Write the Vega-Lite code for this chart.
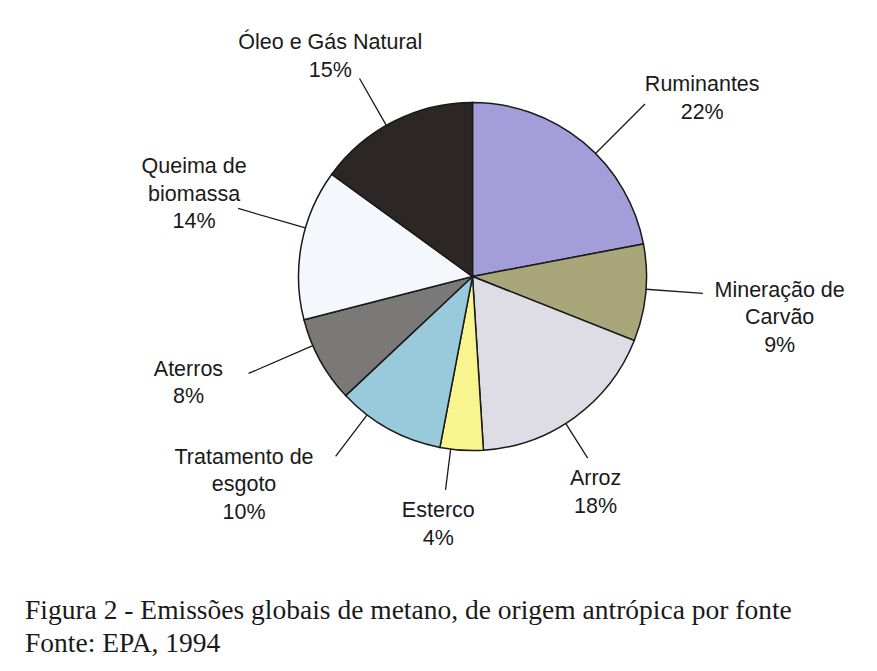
{
  "$schema": "https://vega.github.io/schema/vega-lite/v6.json",
  "width": 805,
  "height": 553,
  "autosize": {"type": "none"},
  "padding": {"left": 70, "top": 0, "right": 1, "bottom": 118},
  "background": "#ffffff",
  "config": {"view": {"stroke": null}},
  "title": {
    "text": "Figura 2 - Emissões globais de metano, de origem antrópica por fonte",
    "subtitle": "Fonte: EPA, 1994",
    "orient": "bottom",
    "anchor": "start",
    "frame": "group",
    "dx": -45,
    "offset": 43.5,
    "font": "Liberation Serif",
    "fontSize": 27.5,
    "fontWeight": "normal",
    "color": "#1a1a1a",
    "subtitleFont": "Liberation Serif",
    "subtitleFontSize": 27.5,
    "subtitleColor": "#1a1a1a",
    "subtitlePadding": 5.5
  },
  "data": {
    "values": [
      {"ordem": 1, "fonte": "Ruminantes", "valor": 22, "rotulo": "Ruminantes\n22%"},
      {"ordem": 2, "fonte": "Mineração de Carvão", "valor": 9, "rotulo": "Mineração de\nCarvão\n9%"},
      {"ordem": 3, "fonte": "Arroz", "valor": 18, "rotulo": "Arroz\n18%"},
      {"ordem": 4, "fonte": "Esterco", "valor": 4, "rotulo": "Esterco\n4%"},
      {"ordem": 5, "fonte": "Tratamento de esgoto", "valor": 10, "rotulo": "Tratamento de\nesgoto\n10%"},
      {"ordem": 6, "fonte": "Aterros", "valor": 8, "rotulo": "Aterros\n8%"},
      {"ordem": 7, "fonte": "Queima de biomassa", "valor": 14, "rotulo": "Queima de\nbiomassa\n14%"},
      {"ordem": 8, "fonte": "Óleo e Gás Natural", "valor": 15, "rotulo": "Óleo e Gás Natural\n15%"}
    ]
  },
  "transform": [
    {"stack": "valor", "groupby": [], "sort": [{"field": "ordem", "order": "ascending"}], "as": ["v0", "v1"]}
  ],
  "resolve": {"scale": {"theta": "independent"}},
  "layer": [
    {
      "mark": {"type": "arc", "outerRadius": 174, "stroke": "#1a1a1a", "strokeWidth": 1.5},
      "encoding": {
        "theta": {"field": "v0", "type": "quantitative", "scale": {"domain": [0, 100], "range": [0, 6.283185]}},
        "theta2": {"field": "v1"},
        "color": {
          "field": "fonte",
          "type": "nominal",
          "scale": {
            "domain": ["Ruminantes", "Mineração de Carvão", "Arroz", "Esterco", "Tratamento de esgoto", "Aterros", "Queima de biomassa", "Óleo e Gás Natural"],
            "range": ["#a39dd9", "#a9a67a", "#dedde6", "#f8f58e", "#99cadb", "#7b7977", "#f4f8fc", "#2c2725"]
          },
          "legend": null
        }
      }
    },
    {
      "transform": [
        {"fold": ["v0", "v1"], "as": ["limite", "posicao"]},
        {"aggregate": [{"op": "mean", "field": "posicao", "as": "meio"}], "groupby": ["fonte", "rotulo"]},
        {"filter": {"field": "fonte", "oneOf": ["Óleo e Gás Natural"]}}
      ],
      "resolve": {"scale": {"theta": "independent"}},
      "layer": [
        {
          "mark": {"type": "arc", "filled": false, "innerRadius": 174, "outerRadius": 228, "stroke": "#1a1a1a", "strokeWidth": 1.3},
          "encoding": {
            "theta": {"field": "meio", "type": "quantitative", "scale": {"domain": [0, 100], "range": [-0.0471, 6.236085]}},
            "theta2": {"field": "meio"}
          }
        },
        {
          "mark": {"type": "text", "radius": 273, "font": "Liberation Sans", "fontSize": 21.5, "lineHeight": 27.5, "lineBreak": "\n", "color": "#1a1a1a", "align": "center", "baseline": "middle"},
          "encoding": {
            "theta": {"field": "meio", "type": "quantitative", "scale": {"domain": [0, 100], "range": [-0.0768, 6.206385]}},
            "text": {"field": "rotulo"}
          }
        }
      ]
    },
    {
      "transform": [
        {"fold": ["v0", "v1"], "as": ["limite", "posicao"]},
        {"aggregate": [{"op": "mean", "field": "posicao", "as": "meio"}], "groupby": ["fonte", "rotulo"]},
        {"filter": {"field": "fonte", "oneOf": ["Mineração de Carvão"]}}
      ],
      "resolve": {"scale": {"theta": "independent"}},
      "layer": [
        {
          "mark": {"type": "arc", "filled": false, "innerRadius": 174, "outerRadius": 231, "stroke": "#1a1a1a", "strokeWidth": 1.3},
          "encoding": {
            "theta": {"field": "meio", "type": "quantitative", "scale": {"domain": [0, 100], "range": [-0.0209, 6.262285]}},
            "theta2": {"field": "meio"}
          }
        },
        {
          "mark": {"type": "text", "radius": 307.5, "font": "Liberation Sans", "fontSize": 21.5, "lineHeight": 27.5, "lineBreak": "\n", "color": "#1a1a1a", "align": "center", "baseline": "middle"},
          "encoding": {
            "theta": {"field": "meio", "type": "quantitative", "scale": {"domain": [0, 100], "range": [-0.0471, 6.236085]}},
            "text": {"field": "rotulo"}
          }
        }
      ]
    },
    {
      "transform": [
        {"fold": ["v0", "v1"], "as": ["limite", "posicao"]},
        {"aggregate": [{"op": "mean", "field": "posicao", "as": "meio"}], "groupby": ["fonte", "rotulo"]},
        {"filter": {"field": "fonte", "oneOf": ["Arroz", "Esterco"]}}
      ],
      "resolve": {"scale": {"theta": "independent"}},
      "layer": [
        {
          "mark": {"type": "arc", "filled": false, "innerRadius": 174, "outerRadius": 215, "stroke": "#1a1a1a", "strokeWidth": 1.3},
          "encoding": {
            "theta": {"field": "meio", "type": "quantitative", "scale": {"domain": [0, 100], "range": [0.063, 6.346185]}},
            "theta2": {"field": "meio"}
          }
        },
        {
          "mark": {"type": "text", "radius": 237, "font": "Liberation Sans", "fontSize": 21.5, "lineHeight": 27.5, "lineBreak": "\n", "color": "#1a1a1a", "align": "center", "baseline": "middle"},
          "encoding": {
            "theta": {"field": "meio", "type": "quantitative", "scale": {"domain": [0, 100], "range": [0.082, 6.365185]}},
            "text": {"field": "rotulo"}
          }
        }
      ]
    },
    {
      "transform": [
        {"fold": ["v0", "v1"], "as": ["limite", "posicao"]},
        {"aggregate": [{"op": "mean", "field": "posicao", "as": "meio"}], "groupby": ["fonte", "rotulo"]},
        {"filter": {"field": "fonte", "oneOf": ["Queima de biomassa", "Ruminantes", "Aterros"]}}
      ],
      "resolve": {"scale": {"theta": "independent"}},
      "layer": [
        {
          "mark": {"type": "arc", "filled": false, "innerRadius": 174, "outerRadius": 244, "stroke": "#1a1a1a", "strokeWidth": 1.3},
          "encoding": {
            "theta": {"field": "meio", "type": "quantitative", "scale": {"domain": [0, 100], "range": [0.094, 6.377185]}},
            "theta2": {"field": "meio"}
          }
        },
        {
          "mark": {"type": "text", "radius": 299, "font": "Liberation Sans", "fontSize": 21.5, "lineHeight": 27.5, "lineBreak": "\n", "color": "#1a1a1a", "align": "center", "baseline": "middle"},
          "encoding": {
            "theta": {"field": "meio", "type": "quantitative", "scale": {"domain": [0, 100], "range": [0.185, 6.468185]}},
            "text": {"field": "rotulo"}
          }
        }
      ]
    },
    {
      "transform": [
        {"fold": ["v0", "v1"], "as": ["limite", "posicao"]},
        {"aggregate": [{"op": "mean", "field": "posicao", "as": "meio"}], "groupby": ["fonte", "rotulo"]},
        {"filter": {"field": "fonte", "oneOf": ["Tratamento de esgoto"]}}
      ],
      "resolve": {"scale": {"theta": "independent"}},
      "layer": [
        {
          "mark": {"type": "arc", "filled": false, "innerRadius": 174, "outerRadius": 226, "stroke": "#1a1a1a", "strokeWidth": 1.3},
          "encoding": {
            "theta": {"field": "meio", "type": "quantitative", "scale": {"domain": [0, 100], "range": [0.148, 6.431185]}},
            "theta2": {"field": "meio"}
          }
        },
        {
          "mark": {"type": "text", "radius": 291.5, "font": "Liberation Sans", "fontSize": 21.5, "lineHeight": 27.5, "lineBreak": "\n", "color": "#1a1a1a", "align": "center", "baseline": "middle"},
          "encoding": {
            "theta": {"field": "meio", "type": "quantitative", "scale": {"domain": [0, 100], "range": [0.398, 6.681185]}},
            "text": {"field": "rotulo"}
          }
        }
      ]
    }
  ]
}
